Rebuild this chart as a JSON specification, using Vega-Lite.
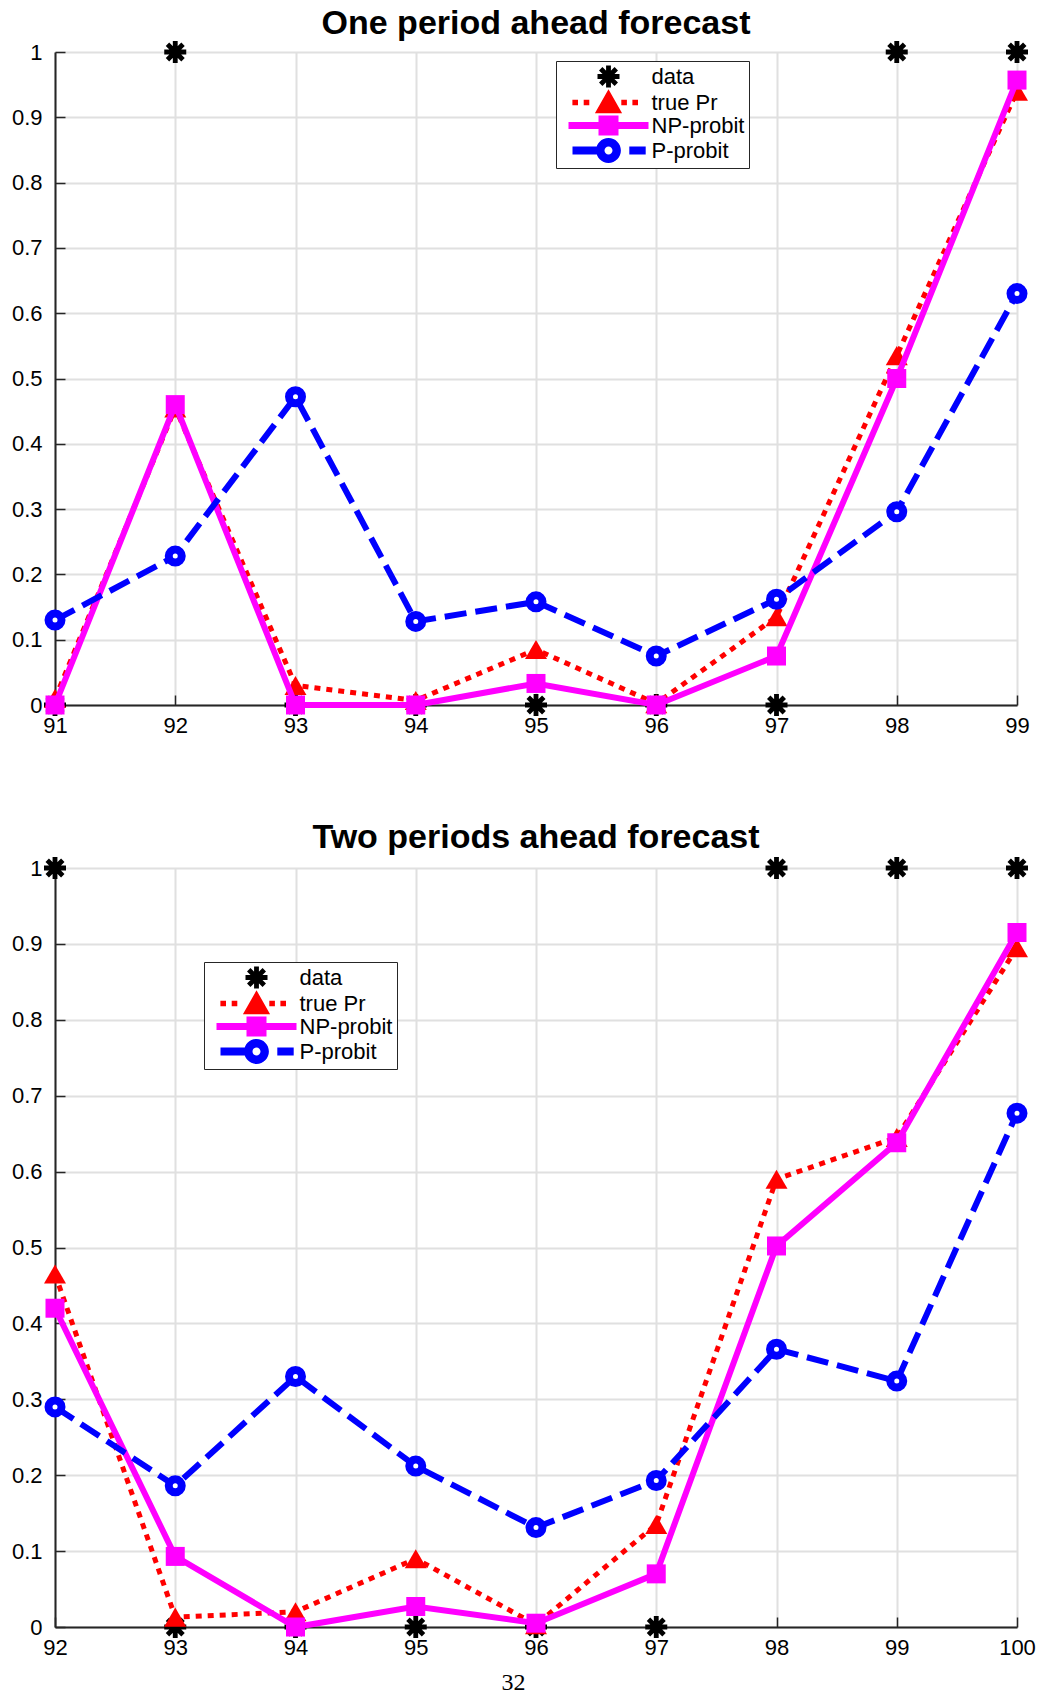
{
  "$schema": "https://vega.github.io/schema/vega-lite/v6.json",
  "background": "white",
  "padding": {"left": 11, "top": 6, "right": 0, "bottom": 0},
  "bounds": "flush",
  "spacing": 163,
  "resolve": {
    "scale": {"color": "independent", "shape": "independent"},
    "legend": {"color": "independent", "shape": "independent"}
  },
  "config": {
    "view": {"stroke": null},
    "font": "Liberation Sans",
    "axis": {
      "grid": true, "gridColor": "#e0e0e0", "gridWidth": 2,
      "domainColor": "#262626", "domainWidth": 2,
      "tickColor": "#262626", "tickWidth": 1.5, "tickSize": -10,
      "labelFont": "Liberation Sans", "labelFontSize": 22, "labelColor": "#000000", "labelFlush": false
    },
    "title": {"font": "Liberation Sans", "fontSize": 34, "fontWeight": "bold", "color": "#000000", "anchor": "middle", "frame": "group", "baseline": "alphabetic"},
    "legend": {
      "strokeColor": "#262626", "fillColor": "white", "padding": 4.5,
      "symbolSize": 400, "symbolStrokeWidth": 0, "symbolOpacity": 1, "symbolOffset": 37,
      "labelFont": "Liberation Sans", "labelFontSize": 22, "labelColor": "#000000", "labelOffset": 32,
      "rowPadding": 1
    }
  },
  "datasets": {
    "one": [
      {"year": 91, "series": "data", "p": 0}, {"year": 92, "series": "data", "p": 1}, {"year": 93, "series": "data", "p": 0},
      {"year": 94, "series": "data", "p": 0}, {"year": 95, "series": "data", "p": 0}, {"year": 96, "series": "data", "p": 0},
      {"year": 97, "series": "data", "p": 0}, {"year": 98, "series": "data", "p": 1}, {"year": 99, "series": "data", "p": 1},
      {"year": 91, "series": "true Pr", "p": 0.01}, {"year": 92, "series": "true Pr", "p": 0.455}, {"year": 93, "series": "true Pr", "p": 0.03},
      {"year": 94, "series": "true Pr", "p": 0.007}, {"year": 95, "series": "true Pr", "p": 0.085}, {"year": 96, "series": "true Pr", "p": 0.002},
      {"year": 97, "series": "true Pr", "p": 0.135}, {"year": 98, "series": "true Pr", "p": 0.535}, {"year": 99, "series": "true Pr", "p": 0.94},
      {"year": 91, "series": "NP-probit", "p": 0.0}, {"year": 92, "series": "NP-probit", "p": 0.46}, {"year": 93, "series": "NP-probit", "p": 0.0},
      {"year": 94, "series": "NP-probit", "p": 0.0}, {"year": 95, "series": "NP-probit", "p": 0.033}, {"year": 96, "series": "NP-probit", "p": 0.0},
      {"year": 97, "series": "NP-probit", "p": 0.075}, {"year": 98, "series": "NP-probit", "p": 0.5}, {"year": 99, "series": "NP-probit", "p": 0.957},
      {"year": 91, "series": "P-probit", "p": 0.13}, {"year": 92, "series": "P-probit", "p": 0.228}, {"year": 93, "series": "P-probit", "p": 0.472},
      {"year": 94, "series": "P-probit", "p": 0.128}, {"year": 95, "series": "P-probit", "p": 0.158}, {"year": 96, "series": "P-probit", "p": 0.075},
      {"year": 97, "series": "P-probit", "p": 0.162}, {"year": 98, "series": "P-probit", "p": 0.296}, {"year": 99, "series": "P-probit", "p": 0.63}
    ],
    "two": [
      {"year": 92, "series": "data", "p": 1}, {"year": 93, "series": "data", "p": 0}, {"year": 94, "series": "data", "p": 0},
      {"year": 95, "series": "data", "p": 0}, {"year": 96, "series": "data", "p": 0}, {"year": 97, "series": "data", "p": 0},
      {"year": 98, "series": "data", "p": 1}, {"year": 99, "series": "data", "p": 1}, {"year": 100, "series": "data", "p": 1},
      {"year": 92, "series": "true Pr", "p": 0.465}, {"year": 93, "series": "true Pr", "p": 0.013}, {"year": 94, "series": "true Pr", "p": 0.02},
      {"year": 95, "series": "true Pr", "p": 0.09}, {"year": 96, "series": "true Pr", "p": 0.003}, {"year": 97, "series": "true Pr", "p": 0.135},
      {"year": 98, "series": "true Pr", "p": 0.59}, {"year": 99, "series": "true Pr", "p": 0.645}, {"year": 100, "series": "true Pr", "p": 0.895},
      {"year": 92, "series": "NP-probit", "p": 0.42}, {"year": 93, "series": "NP-probit", "p": 0.093}, {"year": 94, "series": "NP-probit", "p": 0.0},
      {"year": 95, "series": "NP-probit", "p": 0.027}, {"year": 96, "series": "NP-probit", "p": 0.005}, {"year": 97, "series": "NP-probit", "p": 0.07},
      {"year": 98, "series": "NP-probit", "p": 0.502}, {"year": 99, "series": "NP-probit", "p": 0.638}, {"year": 100, "series": "NP-probit", "p": 0.915},
      {"year": 92, "series": "P-probit", "p": 0.29}, {"year": 93, "series": "P-probit", "p": 0.186}, {"year": 94, "series": "P-probit", "p": 0.33},
      {"year": 95, "series": "P-probit", "p": 0.212}, {"year": 96, "series": "P-probit", "p": 0.131}, {"year": 97, "series": "P-probit", "p": 0.193},
      {"year": 98, "series": "P-probit", "p": 0.366}, {"year": 99, "series": "P-probit", "p": 0.324}, {"year": 100, "series": "P-probit", "p": 0.677}
    ]
  },
  "vconcat": [
    {
      "width": 962, "height": 653,
      "title": {"text": "One period ahead forecast", "offset": 0.5},
      "data": {"name": "one"},
      "encoding": {
        "x": {"field": "year", "type": "quantitative", "scale": {"domain": [91, 99], "nice": false, "zero": false},
              "axis": {"values": [91, 92, 93, 94, 95, 96, 97, 98, 99], "format": "d", "labelPadding": 20, "title": null}},
        "y": {"field": "p", "type": "quantitative", "scale": {"domain": [0, 1], "nice": false},
              "axis": {"values": [0, 0.1, 0.2, 0.3, 0.4, 0.5, 0.6, 0.7, 0.8, 0.9, 1], "format": "~g", "labelPadding": 23, "title": null}}
      },
      "layer": [
        {"transform": [{"filter": "datum.series === 'data'"}],
         "mark": {"type": "point", "shape": "M-1,-0.22L1,-0.22L1,0.22L-1,0.22Z M-0.22,-1L0.22,-1L0.22,1L-0.22,1Z M-0.8627,-0.5515L-0.5515,-0.8627L0.8627,0.5515L0.5515,0.8627Z M-0.5515,0.8627L-0.8627,0.5515L0.5515,-0.8627L0.8627,-0.5515Z", "filled": true, "color": "#000000", "size": 484, "opacity": 1, "strokeWidth": 0}},
        {"transform": [{"filter": "datum.series === 'true Pr'"}],
         "mark": {"type": "line", "color": "#ff0000", "strokeWidth": 5, "strokeDash": [6, 6], "strokeCap": "butt"}},
        {"transform": [{"filter": "datum.series === 'true Pr'"}],
         "mark": {"type": "point", "shape": "triangle-up", "filled": true, "color": "#ff0000", "size": 484, "opacity": 1, "strokeWidth": 0}},
        {"transform": [{"filter": "datum.series === 'NP-probit'"}],
         "mark": {"type": "line", "color": "#ff00ff", "strokeWidth": 6}},
        {"transform": [{"filter": "datum.series === 'NP-probit'"}],
         "mark": {"type": "point", "shape": "square", "filled": true, "color": "#ff00ff", "size": 361, "opacity": 1, "strokeWidth": 0}},
        {"transform": [{"filter": "datum.series === 'P-probit'"}],
         "mark": {"type": "line", "color": "#0000ff", "strokeWidth": 6, "strokeDash": [22, 9], "strokeCap": "butt"}},
        {"transform": [{"filter": "datum.series === 'P-probit'"}],
         "mark": {"type": "point", "shape": "circle", "size": 169, "fill": "#ffffff", "stroke": "#0000ff", "strokeWidth": 8, "opacity": 1, "fillOpacity": 1}},
        {"mark": {"type": "point", "filled": true, "opacity": 0},
         "encoding": {
           "shape": {"field": "series", "type": "nominal",
             "scale": {"domain": ["data", "true Pr", "NP-probit", "P-probit"],
                       "range": [
                         "M-1.1,-0.242L1.1,-0.242L1.1,0.242L-1.1,0.242Z M-0.242,-1.1L0.242,-1.1L0.242,1.1L-0.242,1.1Z M-0.949,-0.6067L-0.6067,-0.949L0.949,0.6067L0.6067,0.949Z M-0.6067,0.949L-0.949,0.6067L0.6067,-0.949L0.949,-0.6067Z",
                         "M-3.61,-0.28L-3.05,-0.28L-3.05,0.28L-3.61,0.28Z M-2.48,-0.28L-1.92,-0.28L-1.92,0.28L-2.48,0.28Z M1.28,-0.28L1.84,-0.28L1.84,0.28L1.28,0.28Z M2.39,-0.28L2.95,-0.28L2.95,0.28L2.39,0.28Z M0,-1.32L1.36,1.08L-1.36,1.08Z",
                         "M-4,-0.36L4,-0.36L4,0.36L-4,0.36Z M-1,-1L1,-1L1,1L-1,1Z",
                         "M-3.6,-0.4L-1,-0.4L-1,0.4L-3.6,0.4Z M2.08,-0.4L3.72,-0.4L3.72,0.4L2.08,0.4Z M1.24,0C1.24,0.6848 0.6848,1.24 0,1.24C-0.6848,1.24 -1.24,0.6848 -1.24,0C-1.24,-0.6848 -0.6848,-1.24 0,-1.24C0.6848,-1.24 1.24,-0.6848 1.24,0Z M0.4,0C0.4,-0.2209 0.2209,-0.4 0,-0.4C-0.2209,-0.4 -0.4,-0.2209 -0.4,0C-0.4,0.2209 -0.2209,0.4 0,0.4C0.2209,0.4 0.4,0.2209 0.4,0Z"
                       ]},
             "legend": {"orient": "none", "legendX": 501, "legendY": 9, "title": null}},
           "color": {"field": "series", "type": "nominal",
             "scale": {"domain": ["data", "true Pr", "NP-probit", "P-probit"], "range": ["#000000", "#ff0000", "#ff00ff", "#0000ff"]},
             "legend": {"orient": "none", "legendX": 501, "legendY": 9, "title": null}}
         }}
      ]
    },
    {
      "width": 962, "height": 759,
      "title": {"text": "Two periods ahead forecast", "offset": 2.5},
      "data": {"name": "two"},
      "encoding": {
        "x": {"field": "year", "type": "quantitative", "scale": {"domain": [92, 100], "nice": false, "zero": false},
              "axis": {"values": [92, 93, 94, 95, 96, 97, 98, 99, 100], "format": "d", "labelPadding": 20, "title": "32",
                       "titleFont": "Liberation Serif", "titleFontSize": 24, "titleFontWeight": "normal", "titleColor": "#000000",
                       "titleX": 458, "titleY": 55, "titleBaseline": "middle", "titleAlign": "center"}},
        "y": {"field": "p", "type": "quantitative", "scale": {"domain": [0, 1], "nice": false},
              "axis": {"values": [0, 0.1, 0.2, 0.3, 0.4, 0.5, 0.6, 0.7, 0.8, 0.9, 1], "format": "~g", "labelPadding": 23, "title": null}}
      },
      "layer": [
        {"transform": [{"filter": "datum.series === 'data'"}],
         "mark": {"type": "point", "shape": "M-1,-0.22L1,-0.22L1,0.22L-1,0.22Z M-0.22,-1L0.22,-1L0.22,1L-0.22,1Z M-0.8627,-0.5515L-0.5515,-0.8627L0.8627,0.5515L0.5515,0.8627Z M-0.5515,0.8627L-0.8627,0.5515L0.5515,-0.8627L0.8627,-0.5515Z", "filled": true, "color": "#000000", "size": 484, "opacity": 1, "strokeWidth": 0}},
        {"transform": [{"filter": "datum.series === 'true Pr'"}],
         "mark": {"type": "line", "color": "#ff0000", "strokeWidth": 5, "strokeDash": [6, 6], "strokeCap": "butt"}},
        {"transform": [{"filter": "datum.series === 'true Pr'"}],
         "mark": {"type": "point", "shape": "triangle-up", "filled": true, "color": "#ff0000", "size": 484, "opacity": 1, "strokeWidth": 0}},
        {"transform": [{"filter": "datum.series === 'NP-probit'"}],
         "mark": {"type": "line", "color": "#ff00ff", "strokeWidth": 6}},
        {"transform": [{"filter": "datum.series === 'NP-probit'"}],
         "mark": {"type": "point", "shape": "square", "filled": true, "color": "#ff00ff", "size": 361, "opacity": 1, "strokeWidth": 0}},
        {"transform": [{"filter": "datum.series === 'P-probit'"}],
         "mark": {"type": "line", "color": "#0000ff", "strokeWidth": 6, "strokeDash": [22, 9], "strokeCap": "butt"}},
        {"transform": [{"filter": "datum.series === 'P-probit'"}],
         "mark": {"type": "point", "shape": "circle", "size": 169, "fill": "#ffffff", "stroke": "#0000ff", "strokeWidth": 8, "opacity": 1, "fillOpacity": 1}},
        {"mark": {"type": "point", "filled": true, "opacity": 0},
         "encoding": {
           "shape": {"field": "series", "type": "nominal",
             "scale": {"domain": ["data", "true Pr", "NP-probit", "P-probit"],
                       "range": [
                         "M-1.1,-0.242L1.1,-0.242L1.1,0.242L-1.1,0.242Z M-0.242,-1.1L0.242,-1.1L0.242,1.1L-0.242,1.1Z M-0.949,-0.6067L-0.6067,-0.949L0.949,0.6067L0.6067,0.949Z M-0.6067,0.949L-0.949,0.6067L0.6067,-0.949L0.949,-0.6067Z",
                         "M-3.61,-0.28L-3.05,-0.28L-3.05,0.28L-3.61,0.28Z M-2.48,-0.28L-1.92,-0.28L-1.92,0.28L-2.48,0.28Z M1.28,-0.28L1.84,-0.28L1.84,0.28L1.28,0.28Z M2.39,-0.28L2.95,-0.28L2.95,0.28L2.39,0.28Z M0,-1.32L1.36,1.08L-1.36,1.08Z",
                         "M-4,-0.36L4,-0.36L4,0.36L-4,0.36Z M-1,-1L1,-1L1,1L-1,1Z",
                         "M-3.6,-0.4L-1,-0.4L-1,0.4L-3.6,0.4Z M2.08,-0.4L3.72,-0.4L3.72,0.4L2.08,0.4Z M1.24,0C1.24,0.6848 0.6848,1.24 0,1.24C-0.6848,1.24 -1.24,0.6848 -1.24,0C-1.24,-0.6848 -0.6848,-1.24 0,-1.24C0.6848,-1.24 1.24,-0.6848 1.24,0Z M0.4,0C0.4,-0.2209 0.2209,-0.4 0,-0.4C-0.2209,-0.4 -0.4,-0.2209 -0.4,0C-0.4,0.2209 -0.2209,0.4 0,0.4C0.2209,0.4 0.4,0.2209 0.4,0Z"
                       ]},
             "legend": {"orient": "none", "legendX": 149, "legendY": 94, "title": null}},
           "color": {"field": "series", "type": "nominal",
             "scale": {"domain": ["data", "true Pr", "NP-probit", "P-probit"], "range": ["#000000", "#ff0000", "#ff00ff", "#0000ff"]},
             "legend": {"orient": "none", "legendX": 149, "legendY": 94, "title": null}}
         }}
      ]
    }
  ]
}
